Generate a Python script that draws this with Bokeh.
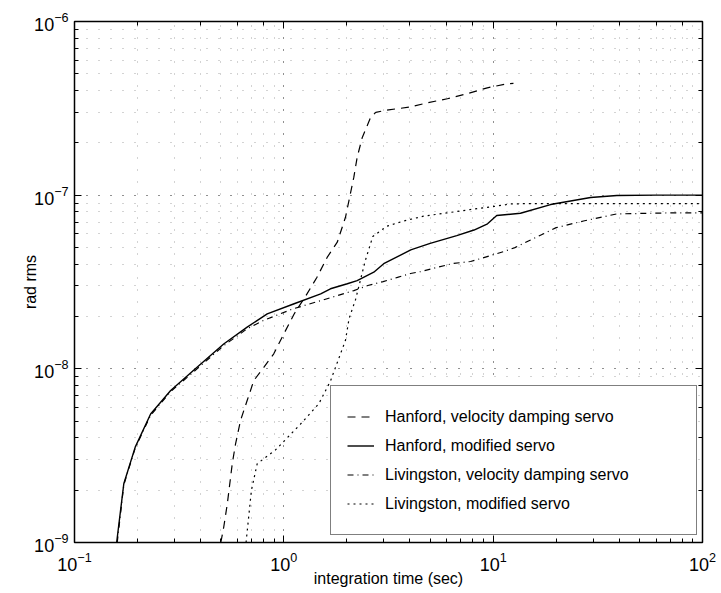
from bokeh.plotting import figure
from bokeh.models import LogAxis, Legend, LegendItem, CustomJSTickFormatter, LogTicker
from bokeh.embed import file_html
from bokeh.resources import INLINE

# ---- data ----
t_hanford_vel = [0.50, 0.516, 0.537, 0.567, 0.588, 0.621, 0.668, 0.719, 0.802, 0.895,
                 1.0, 1.12, 1.29, 1.44, 1.61, 1.80, 1.97, 2.16, 2.24, 2.37, 2.60,
                 2.75, 3.17, 3.96, 4.84, 6.04, 7.52, 9.37, 11.7, 12.5]
y_hanford_vel = [1.0e-9, 1.22e-9, 1.67e-9, 2.84e-9, 3.70e-9, 5.04e-9, 6.57e-9, 8.57e-9, 1.02e-8, 1.22e-8,
                 1.59e-8, 2.07e-8, 2.70e-8, 3.37e-8, 4.38e-8, 5.36e-8, 7.46e-8, 1.27e-7, 1.65e-7, 2.15e-7, 2.81e-7,
                 3.0e-7, 3.10e-7, 3.21e-7, 3.40e-7, 3.59e-7, 3.84e-7, 4.15e-7, 4.38e-7, 4.40e-7]

t_hanford_mod = [0.159, 0.172, 0.195, 0.231, 0.288, 0.385, 0.516, 0.668, 0.833, 1.12, 1.50,
                 1.67, 2.01, 2.24, 2.69, 3.0, 4.04, 5.0, 6.7, 8.1, 9.4, 10.4, 13.5, 18.8,
                 29.2, 39.0, 60.0, 100.0]
y_hanford_mod = [1.0e-9, 2.18e-9, 3.54e-9, 5.5e-9, 7.5e-9, 1.02e-8, 1.39e-8, 1.74e-8, 2.07e-8, 2.37e-8, 2.7e-8,
                 2.89e-8, 3.09e-8, 3.22e-8, 3.6e-8, 4.03e-8, 4.84e-8, 5.28e-8, 5.85e-8, 6.3e-8, 6.84e-8, 7.63e-8, 7.87e-8, 8.83e-8,
                 9.69e-8, 9.95e-8, 1.0e-7, 1.0e-7]

t_livingston_vel = [0.16, 0.172, 0.195, 0.231, 0.288, 0.385, 0.516, 0.668, 0.80, 1.10, 1.50, 1.80,
                    2.16, 2.52, 2.98, 3.49, 4.03, 4.5, 6.4, 7.8, 8.4, 11.2, 12.7, 15.0, 20.0, 27.0,
                    39.0, 68.0, 100.0]
y_livingston_vel = [1.0e-9, 2.15e-9, 3.5e-9, 5.4e-9, 7.4e-9, 1.0e-8, 1.36e-8, 1.70e-8, 1.90e-8, 2.21e-8, 2.47e-8, 2.64e-8,
                    2.82e-8, 3.02e-8, 3.18e-8, 3.36e-8, 3.54e-8, 3.63e-8, 4.04e-8, 4.15e-8, 4.26e-8, 4.73e-8, 4.99e-8, 5.5e-8, 6.5e-8, 7.1e-8,
                    7.8e-8, 7.9e-8, 7.9e-8]

t_livingston_mod = [0.66, 0.70, 0.746, 0.80, 0.865, 0.91, 1.2, 1.47, 1.67, 1.97, 2.05, 2.2, 2.45,
                    2.66, 3.1, 3.7, 4.65, 6.0, 8.0, 10.0, 12.1, 15.0, 20.0, 30.0, 50.0, 100.0]
y_livingston_mod = [1.0e-9, 2.0e-9, 2.84e-9, 3.03e-9, 3.25e-9, 3.4e-9, 4.8e-9, 6.3e-9, 8.5e-9, 1.46e-8, 1.95e-8, 2.5e-8, 4.2e-8,
                    5.78e-8, 6.62e-8, 7.08e-8, 7.57e-8, 7.9e-8, 8.3e-8, 8.6e-8, 8.9e-8, 8.95e-8, 8.95e-8, 8.95e-8, 8.95e-8, 8.95e-8]

labels = ["Hanford, velocity damping servo", "Hanford, modified servo",
          "Livingston, velocity damping servo", "Livingston, modified servo"]

FONT = "Liberation Sans"

p = figure(x_axis_type="log", y_axis_type="log", x_range=(0.1, 100), y_range=(1e-9, 1e-6),
           frame_width=628, frame_height=521,
           min_border_left=74, min_border_top=21, min_border_right=14, min_border_bottom=40,
           output_backend="svg", toolbar_location=None)

p.background_fill_color = "white"
p.border_fill_color = "white"
p.outline_line_color = "black"
p.outline_line_width = 1.5

for g in (p.xgrid[0], p.ygrid[0]):
    g.grid_line_color = "black"
    g.grid_line_dash = "1 11"
    g.grid_line_alpha = 0.35
    g.minor_grid_line_color = "black"
    g.minor_grid_line_dash = "1 11"
    g.minor_grid_line_alpha = 0.35

for ax in (p.xaxis[0], p.yaxis[0]):
    ax.major_tick_in = 7
    ax.major_tick_out = 0
    ax.minor_tick_in = 4
    ax.minor_tick_out = 0
    ax.axis_line_color = "black"
    ax.major_label_text_font = FONT
    ax.major_label_text_font_size = "18px"
    ax.major_label_text_color = "black"
    ax.axis_label_text_font = FONT
    ax.axis_label_text_font_size = "16px"
    ax.axis_label_text_font_style = "normal"
    ax.axis_label_text_color = "black"

p.xaxis.axis_label = "integration time (sec)"
p.yaxis.axis_label = "rad rms"
p.xaxis.major_label_standoff = 9
p.xaxis.axis_label_standoff = -4
p.yaxis.major_label_standoff = 6
p.yaxis.axis_label_standoff = -8

for loc in ("above", "right"):
    ax = LogAxis(ticker=LogTicker(), formatter=CustomJSTickFormatter(code="return ''"))
    ax.major_tick_in = 7
    ax.major_tick_out = 0
    ax.minor_tick_in = 4
    ax.minor_tick_out = 0
    ax.axis_line_color = "black"
    ax.major_label_standoff = 0
    ax.major_label_text_font_size = "1px"
    p.add_layout(ax, loc)

r1 = p.line(t_hanford_vel, y_hanford_vel, line_color="black", line_width=1.2, line_dash="8 6")
r2 = p.line(t_hanford_mod, y_hanford_mod, line_color="black", line_width=1.4)
r3 = p.line(t_livingston_vel, y_livingston_vel, line_color="black", line_width=1.2, line_dash="6 4 1 4")
r4 = p.line(t_livingston_mod, y_livingston_mod, line_color="black", line_width=1.2, line_dash="2 4")

legend = Legend(items=[LegendItem(label=labels[0], renderers=[r1]),
                       LegendItem(label=labels[1], renderers=[r2]),
                       LegendItem(label=labels[2], renderers=[r3]),
                       LegendItem(label=labels[3], renderers=[r4])],
                location=(256, 7))
legend.border_line_color = "black"
legend.border_line_width = 1.5
legend.background_fill_color = "white"
legend.background_fill_alpha = 1.0
legend.padding = 16
legend.spacing = 0
legend.margin = 0
legend.label_height = 29
legend.glyph_height = 29
legend.glyph_width = 27
legend.label_standoff = 11
legend.label_width = 295
legend.label_text_font = FONT
legend.label_text_font_size = "16px"
legend.label_text_color = "black"
p.add_layout(legend)

open("out.html", "w").write(file_html(p, INLINE))
